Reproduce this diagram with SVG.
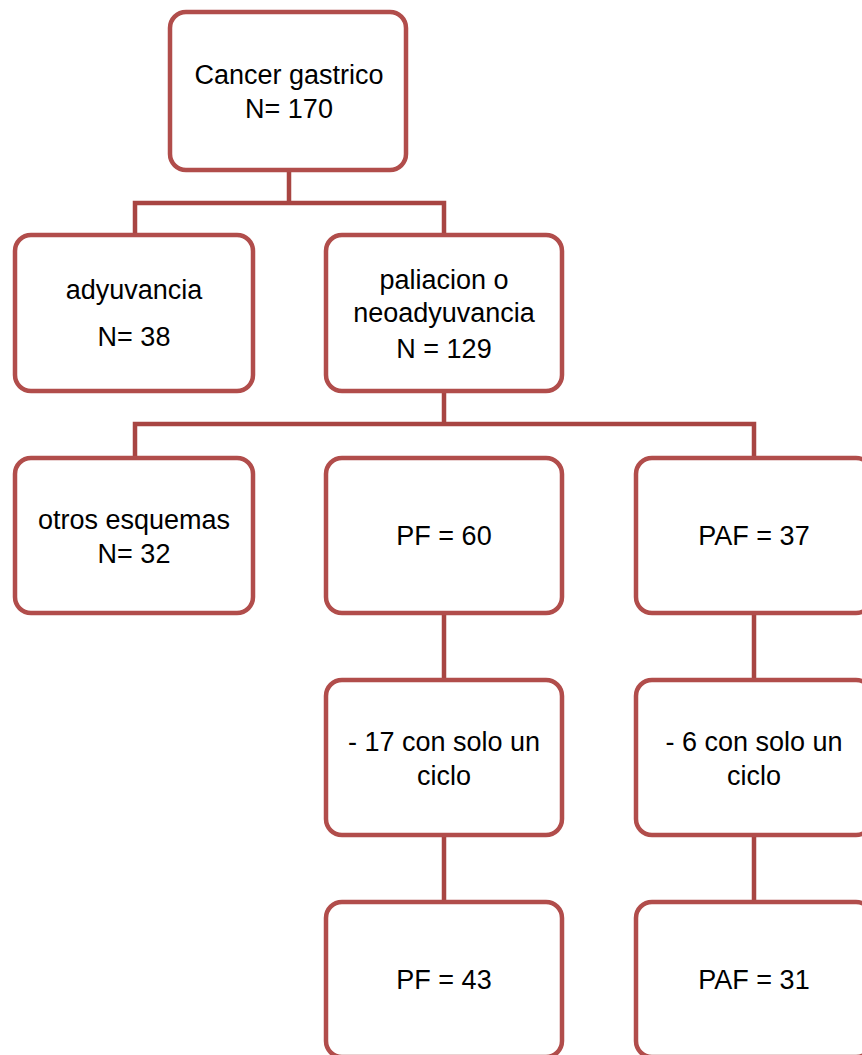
<svg xmlns="http://www.w3.org/2000/svg" width="862" height="1055" viewBox="0 0 862 1055">
<style>
.box{fill:#ffffff;stroke:#B14D4B;stroke-width:4.5}
.con{fill:none;stroke:#A84542;stroke-width:4.5;stroke-linejoin:miter}
text{font-family:"Liberation Sans",Arial,sans-serif;font-size:27px;fill:#000;text-anchor:middle}
</style>
<rect width="862" height="1055" fill="#ffffff"/>
<g id="connectors">
<path class="con" d="M289 170V203M135 235V203H444V235"/>
<path class="con" d="M444 391V424M135 458V424H754V458"/>
<path class="con" d="M444 613V680M754 613V680"/>
<path class="con" d="M444 835V902M754 835V902"/>
</g>
<g id="n1"><rect class="box" x="170" y="12" width="236" height="158" rx="16"/><text x="289" y="84">Cancer gastrico</text><text x="289" y="118">N= 170</text></g>
<g id="n2"><rect class="box" x="15" y="235" width="238" height="156" rx="16"/><text x="134" y="299">adyuvancia</text><text x="134" y="346">N= 38</text></g>
<g id="n3"><rect class="box" x="326" y="235" width="236" height="156" rx="16"/><text x="444" y="289">paliacion o</text><text x="444" y="322">neoadyuvancia</text><text x="444" y="358">N = 129</text></g>
<g id="n4"><rect class="box" x="15" y="458" width="238" height="155" rx="16"/><text x="134" y="529">otros esquemas</text><text x="134" y="563">N= 32</text></g>
<g id="n5"><rect class="box" x="326" y="458" width="236" height="155" rx="16"/><text x="444" y="545">PF = 60</text></g>
<g id="n6"><rect class="box" x="636" y="458" width="236" height="155" rx="16"/><text x="754" y="545">PAF = 37</text></g>
<g id="n7"><rect class="box" x="326" y="680" width="236" height="155" rx="16"/><text x="444" y="751">- 17 con solo un</text><text x="444" y="785">ciclo</text></g>
<g id="n8"><rect class="box" x="636" y="680" width="236" height="155" rx="16"/><text x="754" y="751">- 6 con solo un</text><text x="754" y="785">ciclo</text></g>
<g id="n9"><rect class="box" x="326" y="902" width="236" height="155" rx="16"/><text x="444" y="989">PF = 43</text></g>
<g id="n10"><rect class="box" x="636" y="902" width="236" height="155" rx="16"/><text x="754" y="989">PAF = 31</text></g>
</svg>
